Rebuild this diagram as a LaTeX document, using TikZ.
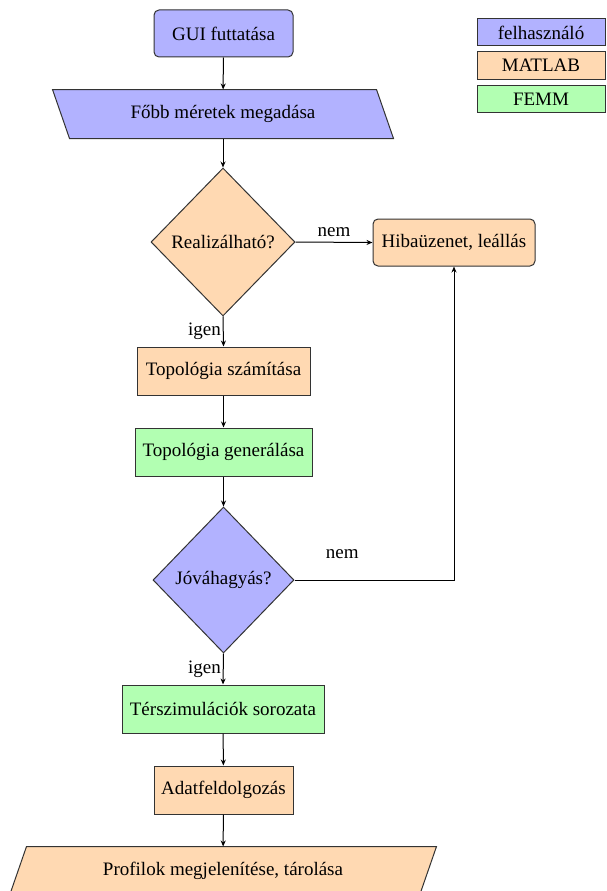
\documentclass[tikz,border=0pt]{standalone}
\usepackage{fontspec}
\setmainfont{Liberation Serif}
\usetikzlibrary{shapes.geometric,arrows.meta,backgrounds}
\colorlet{ublue}{blue!30}
\colorlet{uorange}{orange!30}
\colorlet{ugreen}{green!30}
\tikzset{
  base/.style={font=\fontsize{19}{22}\selectfont, inner sep=0pt, line width=1pt, draw=black!80},
  roundbox/.style={base, rectangle, rounded corners=5pt},
  sqbox/.style={base, rectangle},
  decbox/.style={base, diamond, aspect=1, minimum width=144pt, minimum height=148pt},
  parabox/.style={base, rectangle, draw=none, minimum height=48pt},
  paraedge/.style={line width=1pt, draw=black!80},
  legbox/.style={base, rectangle, minimum width=128pt, minimum height=27pt},
  arr/.style={line width=1pt, -{Stealth[length=6pt,width=5pt]}},
  lbl/.style={font=\fontsize{19}{22}\selectfont, inner sep=2pt},
}
\begin{document}
\begin{tikzpicture}[x=1pt,y=-1pt]
\useasboundingbox (0,0) rectangle (606,891);
\begin{scope}
\clip (0,0) rectangle (606,891);
% nodes
\node[roundbox, fill=ublue, minimum width=139pt, minimum height=47pt] (gui) at (223.5,33.5) {GUI futtatása};
\node[parabox, minimum width=323pt] (p1) at (223,114) {Főbb méretek megadása};
\node[decbox, fill=uorange] (d1) at (223,242) {Realizálható?};
\node[roundbox, fill=uorange, minimum width=162pt, minimum height=47pt] (hib) at (454,242.5) {Hibaüzenet, leállás};
\node[sqbox, fill=uorange, minimum width=173pt, minimum height=48pt] (top1) at (223.5,371) {Topológia számítása};
\node[sqbox, fill=ugreen, minimum width=177pt, minimum height=48pt] (top2) at (223.5,452) {Topológia generálása};
\node[decbox, fill=ublue, minimum width=141pt, minimum height=146pt] (d2) at (223.5,580) {Jóváhagyás?};
\node[sqbox, fill=ugreen, minimum width=202pt, minimum height=48pt] (ter) at (223,709) {Térszimulációk sorozata};
\node[sqbox, fill=uorange, minimum width=139pt, minimum height=48pt] (adat) at (223.5,790) {Adatfeldolgozás};
\node[parabox, minimum width=409pt] (p2) at (223,871) {Profilok megjelenítése, tárolása};
% parallelogram outlines on background
\begin{scope}[on background layer]
\filldraw[paraedge, fill=ublue] ([xshift=-8.5pt]p1.north west) -- ([xshift=-8.5pt]p1.north east) -- ([xshift=8.5pt]p1.south east) -- ([xshift=8.5pt]p1.south west) -- cycle;
\filldraw[paraedge, fill=uorange] ([xshift=8.5pt]p2.north west) -- ([xshift=8.5pt]p2.north east) -- ([xshift=-8.5pt]p2.south east) -- ([xshift=-8.5pt]p2.south west) -- cycle;
\end{scope}
% legend
\node[legbox, fill=ublue] (lg1) at (541,32.5) {felhasználó};
\node[legbox, fill=uorange] (lg2) at (541,65.5) {MATLAB};
\node[legbox, fill=ugreen] (lg3) at (541,99) {FEMM};
% connectors
\draw[arr] (gui) -- (p1);
\draw[arr] (p1) -- (d1);
\draw[arr] (d1.east) -- node[lbl, above, yshift=3pt] {nem} (hib.west);
\draw[arr] (d1.south) -- node[lbl, left] {igen} (top1.north);
\draw[arr] (top1) -- (top2);
\draw[arr] (top2) -- (d2.north);
\draw[arr] (d2.east) -- node[lbl, pos=0.3, yshift=26pt] {nem} (hib.south |- d2.east) -- (hib.south);
\draw[arr] (d2.south) -- node[lbl, left] {igen} (ter.north);
\draw[arr] (ter) -- (adat);
\draw[arr] (adat) -- (p2);
\end{scope}
\end{tikzpicture}
\end{document}
